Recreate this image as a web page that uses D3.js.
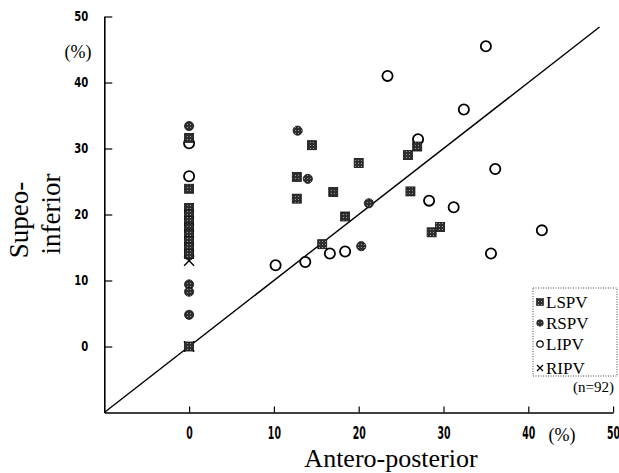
<!DOCTYPE html>
<html>
<head>
<meta charset="utf-8">
<script src="https://cdn.jsdelivr.net/npm/d3@7"></script>
<style>
  body { margin: 0; background: #fff; }
  svg { display: block; }
</style>
</head>
<body>
<div id="chart"></div>
<script>
// Values (antero-posterior %, supero-inferior %)
const lspv = [
    [14.5, 30.5], [12.7, 25.7], [17.0, 23.4], [12.7, 22.4], [18.4, 19.7], [15.7, 15.5],
    [26.9, 30.3], [25.8, 29.0], [20.0, 27.8], [26.1, 23.5], [29.6, 18.1], [28.6, 17.3],
    [0, 31.6], [0, 23.9], [0, 21.0], [0, 20.0], [0, 19.0], [0, 18.0], [0, 17.0],
    [0, 16.0], [0, 15.0], [0, 14.0], [0, 0]
];
const rspv = [
    [12.8, 32.7], [14.0, 25.4], [21.2, 21.7], [20.3, 15.2],
    [0, 33.4], [0, 20.5], [0, 19.5], [0, 18.5], [0, 17.5], [0, 16.5], [0, 15.5],
    [0, 14.5], [0, 13.8], [0, 9.4], [0, 8.3], [0, 4.8]
];
const lipv = [
    [16.6, 14.1], [18.4, 14.4], [13.7, 12.8], [10.2, 12.3], [27.0, 31.4], [36.1, 26.9],
    [28.3, 22.1], [31.2, 21.1], [41.6, 17.6], [35.6, 14.1], [35.0, 45.5], [23.4, 41.0],
    [32.4, 35.9], [0, 30.8], [0, 25.8]
];
const ripv = [[0, 13.0], [0, 0], [0, 0]];

const identityLine = [[-10, -10], [48.4, 48.4]];
const xTicks = [0, 10, 20, 30, 40, 50];
const yTicks = [0, 10, 20, 30, 40, 50];
const legendLabels = ['LSPV', 'RSPV', 'LIPV', 'RIPV'];

const serif = '"Liberation Serif", "Times New Roman", serif';
const narrow = '"DejaVu Sans Condensed", "DejaVu Sans", sans-serif';

const svg = d3.select('#chart')
    .append('svg')
    .attr('width', 619)
    .attr('height', 473);

// halftone-ish fill for the dark markers
const pat = svg.append('defs').append('pattern')
    .attr('id', 'dots')
    .attr('width', 3).attr('height', 3)
    .attr('patternUnits', 'userSpaceOnUse');
pat.append('rect').attr('width', 3).attr('height', 3).attr('fill', '#2e2e2e');
pat.append('rect').attr('x', 1).attr('y', 1).attr('width', 1).attr('height', 1).attr('fill', '#9a9a9a');

const x = d3.scaleLinear().domain([-10, 50]).range([104.3, 613.1]);
const y = d3.scaleLinear().domain([-10, 50]).range([412.5, 16.5]);

// axes: ticks point inward
const xAxis = svg.append('g')
    .attr('transform', `translate(0,${y(-10)})`)
    .call(d3.axisBottom(x).tickValues(xTicks).tickSize(-6).tickPadding(14).tickSizeOuter(0));
const yAxis = svg.append('g')
    .attr('transform', `translate(${x(-10)},0)`)
    .call(d3.axisLeft(y).tickValues(yTicks).tickSize(-8).tickPadding(16).tickSizeOuter(0));

[xAxis, yAxis].forEach(g => {
    g.select('.domain').attr('stroke', '#000').attr('stroke-width', 1.6);
    g.selectAll('.tick line').attr('stroke', '#000').attr('stroke-width', 1.2);
    g.selectAll('.tick text')
        .attr('fill', '#000')
        .style('font-family', narrow)
        .style('font-weight', 'bold');
});
xAxis.selectAll('.tick text')
    .style('font-size', '18px')
    .attr('transform', 'scale(0.58,1)');
yAxis.selectAll('.tick text')
    .style('font-size', '14px')
    .attr('x', -16 / 0.8)
    .attr('transform', 'scale(0.8,1)');

// y = x reference line
svg.append('path')
    .datum(identityLine)
    .attr('d', d3.line().x(d => x(d[0])).y(d => y(d[1])))
    .attr('fill', 'none')
    .attr('stroke', '#000')
    .attr('stroke-width', 1.4);

// markers
function drawSquares(g, data, s) {
    g.selectAll(null).data(data).enter().append('rect')
        .attr('x', d => x(d[0]) - s / 2)
        .attr('y', d => y(d[1]) - s / 2)
        .attr('width', s).attr('height', s)
        .attr('fill', 'url(#dots)')
        .attr('stroke', '#111').attr('stroke-width', 0.8);
}
function drawDots(g, data, r) {
    g.selectAll(null).data(data).enter().append('circle')
        .attr('cx', d => x(d[0])).attr('cy', d => y(d[1])).attr('r', r)
        .attr('fill', 'url(#dots)')
        .attr('stroke', '#111').attr('stroke-width', 0.8);
}
function drawRings(g, data, r, w) {
    g.selectAll(null).data(data).enter().append('circle')
        .attr('cx', d => x(d[0])).attr('cy', d => y(d[1])).attr('r', r)
        .attr('fill', '#fff')
        .attr('stroke', '#000').attr('stroke-width', w);
}
function drawCrosses(g, data, s, w) {
    g.selectAll(null).data(data).enter().append('path')
        .attr('d', d => {
            const cx = x(d[0]), cy = y(d[1]);
            return `M${cx - s},${cy - s}L${cx + s},${cy + s}M${cx - s},${cy + s}L${cx + s},${cy - s}`;
        })
        .attr('stroke', '#000').attr('stroke-width', w);
}

const marks = svg.append('g');
drawRings(marks, lipv, 5.1, 1.8);
drawCrosses(marks, ripv, 5, 1.4);
drawDots(marks, rspv, 4.6);
drawSquares(marks, lspv, 9);

// axis titles and units
svg.append('text')
    .attr('x', 78).attr('y', 58)
    .attr('text-anchor', 'middle')
    .style('font-family', serif).style('font-size', '18px')
    .text('(%)');

svg.append('text')
    .attr('x', 562).attr('y', 441)
    .attr('text-anchor', 'middle')
    .style('font-family', serif).style('font-size', '18px')
    .text('(%)');

svg.append('text')
    .attr('x', 391).attr('y', 467)
    .attr('text-anchor', 'middle')
    .style('font-family', serif).style('font-size', '26px')
    .text('Antero-posterior');

svg.append('text')
    .attr('transform', 'translate(28,220) rotate(-90)')
    .attr('text-anchor', 'middle')
    .style('font-family', serif).style('font-size', '27px')
    .text('Supeo-');

svg.append('text')
    .attr('transform', 'translate(60,214) rotate(-90)')
    .attr('text-anchor', 'middle')
    .style('font-family', serif).style('font-size', '27px')
    .text('inferior');

// legend
const legend = svg.append('g');
legend.append('rect')
    .attr('x', 533).attr('y', 288)
    .attr('width', 84).attr('height', 88)
    .attr('fill', '#fff')
    .attr('stroke', '#444').attr('stroke-width', 1)
    .attr('stroke-dasharray', '1,1.5');

const legendRows = legendLabels.map((label, i) => ({ label, cy: [302, 323, 344, 368][i] }));
legend.selectAll('text.lab').data(legendRows).enter().append('text')
    .attr('x', 546).attr('y', d => d.cy + 6)
    .style('font-family', serif).style('font-size', '17px')
    .text(d => d.label);

const lx = 540;
legend.append('rect')
    .attr('x', lx - 3.5).attr('y', legendRows[0].cy - 3.5).attr('width', 7).attr('height', 7)
    .attr('fill', 'url(#dots)').attr('stroke', '#111').attr('stroke-width', 0.6);
legend.append('circle')
    .attr('cx', lx).attr('cy', legendRows[1].cy).attr('r', 3.3)
    .attr('fill', 'url(#dots)').attr('stroke', '#111').attr('stroke-width', 0.6);
legend.append('circle')
    .attr('cx', lx).attr('cy', legendRows[2].cy).attr('r', 3.2)
    .attr('fill', '#fff').attr('stroke', '#000').attr('stroke-width', 1.2);
legend.append('path')
    .attr('d', `M${lx - 3},${legendRows[3].cy - 3}L${lx + 3},${legendRows[3].cy + 3}M${lx - 3},${legendRows[3].cy + 3}L${lx + 3},${legendRows[3].cy - 3}`)
    .attr('stroke', '#000').attr('stroke-width', 1.2);

svg.append('text')
    .attr('x', 573).attr('y', 392)
    .style('font-family', serif).style('font-size', '15px')
    .text('(n=92)');
</script>
</body>
</html>
